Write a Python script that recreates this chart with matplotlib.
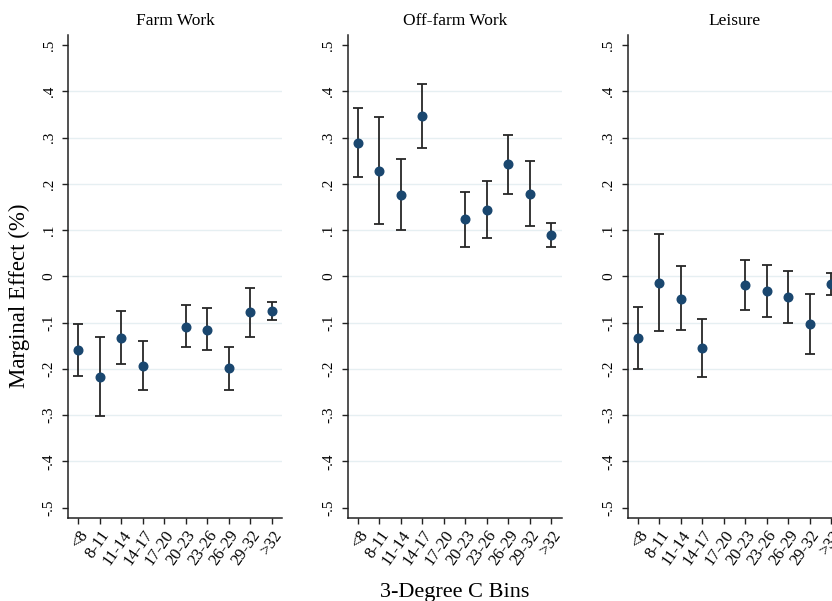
import numpy as np
import matplotlib
matplotlib.use("Agg")
import matplotlib.pyplot as plt

plt.rcParams['font.family'] = ['Liberation Serif', 'DejaVu Serif']

bins = ["<8", "8-11", "11-14", "14-17", "17-20", "20-23", "23-26", "26-29", "29-32", ">32"]
titles = ["Farm Work", "Off-farm Work", "Leisure"]

nan = np.nan
farm_est = [-0.159, -0.217, -0.133, -0.194, nan, -0.109, -0.116, -0.199, -0.078, -0.075]
farm_hi = [-0.102, -0.131, -0.075, -0.140, nan, -0.062, -0.069, -0.153, -0.025, -0.055]
farm_lo = [-0.216, -0.302, -0.189, -0.245, nan, -0.153, -0.160, -0.245, -0.131, -0.094]

off_est = [0.289, 0.228, 0.177, 0.347, nan, 0.124, 0.144, 0.242, 0.178, 0.089]
off_hi = [0.365, 0.344, 0.253, 0.415, nan, 0.183, 0.206, 0.306, 0.249, 0.115]
off_lo = [0.214, 0.113, 0.101, 0.277, nan, 0.064, 0.083, 0.179, 0.109, 0.063]

leis_est = [-0.133, -0.014, -0.048, -0.155, nan, -0.019, -0.032, -0.045, -0.104, -0.017]
leis_hi = [-0.066, 0.091, 0.022, -0.093, nan, 0.035, 0.024, 0.011, -0.039, 0.007]
leis_lo = [-0.201, -0.118, -0.116, -0.217, nan, -0.073, -0.087, -0.101, -0.168, -0.040]

yticks = [0.5, 0.4, 0.3, 0.2, 0.1, 0.0, -0.1, -0.2, -0.3, -0.4, -0.5]
ytick_labels = [".5", ".4", ".3", ".2", ".1", "0", "-.1", "-.2", "-.3", "-.4", "-.5"]

series = [(farm_est, farm_lo, farm_hi), (off_est, off_lo, off_hi), (leis_est, leis_lo, leis_hi)]

W, H = 832, 601
fig = plt.figure(figsize=(W / 100, H / 100), dpi=100)

# third panel runs past the right edge, as in the original crop
lefts = [68, 347.7, 627.7]
bottom = 1 - 517.7 / H
height = (517.7 - 35) / H
width = 214 / W

x = np.arange(len(bins))
for i, (est, lo, hi) in enumerate(series):
    ax = fig.add_axes([lefts[i] / W, bottom, width, height])
    est = np.array(est)
    lo = np.array(lo)
    hi = np.array(hi)
    for g in yticks[1:-1]:
        ax.axhline(g, color="#e6eff2", lw=1.0, zorder=0)
    ax.errorbar(x, est, yerr=[est - lo, hi - est], fmt="none", ecolor="#262626",
                elinewidth=1.3, capsize=3.6, capthick=1.3, zorder=2)
    ax.plot(x, est, "o", color="#1a476f", markersize=6.2, zorder=3)
    ax.set_xlim(-0.48, 9.48)
    ax.set_ylim(-0.522, 0.522)
    ax.set_yticks(yticks)
    ax.set_yticklabels(ytick_labels, rotation=90, va="center", fontsize=11)
    ax.set_xticks(x)
    ax.set_xticklabels(bins, rotation=55, ha="right", rotation_mode="anchor", fontsize=12)
    for s in ["top", "right"]:
        ax.spines[s].set_visible(False)
    for s in ["left", "bottom"]:
        ax.spines[s].set_color("#222222")
        ax.spines[s].set_linewidth(1.1)
    ax.tick_params(axis="both", direction="out", length=4, width=1.0, color="#222222", pad=3)
    ax.tick_params(axis="y", pad=5)
    ax.set_title(titles[i], fontsize=12.5, pad=7)
    if i == 0:
        ax.set_ylabel("Marginal Effect (%)", fontsize=16.5)
        ax.yaxis.set_label_coords(-0.178, 0.46)
    if i == 1:
        ax.set_xlabel("3-Degree C Bins", fontsize=16, labelpad=10)

fig.savefig("out.png", dpi=100)
